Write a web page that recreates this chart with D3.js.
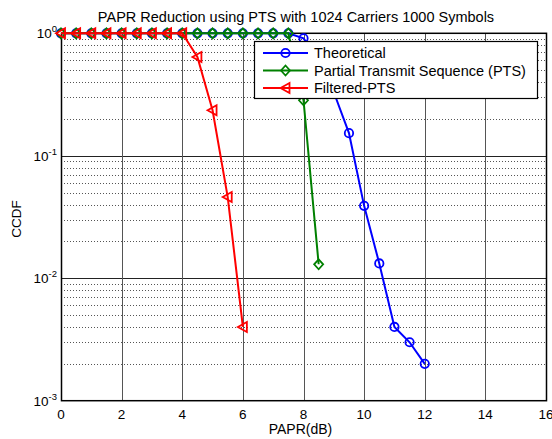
<!DOCTYPE html>
<html>
<head>
<meta charset="utf-8">
<script src="https://cdn.jsdelivr.net/npm/d3@7"></script>
<style>
  html, body { margin: 0; padding: 0; background: #fff; }
  svg { display: block; font-family: "Liberation Sans", Arial, sans-serif; }
</style>
</head>
<body>
<div id="chart"></div>
<script>
// PAPR values (dB) and CCDF readings for each curve
const paprTheory = [0, 0.5, 1, 1.5, 2, 2.5, 3, 3.5, 4, 4.5, 5, 5.5, 6, 6.5, 7, 7.5, 8, 8.5, 9, 9.5, 10, 10.5, 11, 11.5, 12];
const ccdfTheory = [1, 1, 1, 1, 1, 1, 1, 1, 1, 1, 1, 1, 1, 1, 1, 1, 0.91, 0.62, 0.33, 0.153, 0.039, 0.0132, 0.004, 0.003, 0.002];

const paprPts = [0, 0.5, 1, 1.5, 2, 2.5, 3, 3.5, 4, 4.5, 5, 5.5, 6, 6.5, 7, 7.5, 8, 8.5];
const ccdfPts = [1, 1, 1, 1, 1, 1, 1, 1, 1, 1, 1, 1, 1, 1, 1, 1, 0.284, 0.013];

const paprFilt = [0, 0.5, 1, 1.5, 2, 2.5, 3, 3.5, 4, 4.5, 5, 5.5, 6];
const ccdfFilt = [1, 1, 1, 1, 1, 1, 1, 1, 1, 0.64, 0.235, 0.046, 0.004];

const xTicks = [0, 2, 4, 6, 8, 10, 12, 14, 16];
const yDecades = [0, -1, -2, -3];
const legendLabels = ["Theoretical", "Partial Transmit Sequence (PTS)", "Filtered-PTS"];

const W = 552, H = 439;
const box = { left: 61, right: 546, top: 33.3, bottom: 400.7 };

const svg = d3.select("#chart").append("svg")
    .attr("width", W).attr("height", H);

const x = d3.scaleLinear().domain([0, 16]).range([box.left, box.right]);
const y = d3.scaleLog().domain([1e-3, 1]).range([box.bottom, box.top]);

// grid — minor dotted horizontals, solid majors
const minorVals = [];
for (let e = -3; e < 0; e++) for (let m = 2; m <= 9; m++) minorVals.push(m * Math.pow(10, e));

const grid = svg.append("g");
grid.selectAll(".ymin").data(minorVals).join("line")
    .attr("x1", box.left).attr("x2", box.right)
    .attr("y1", d => Math.round(y(d)) + 0.5).attr("y2", d => Math.round(y(d)) + 0.5)
    .attr("stroke", "#555").attr("stroke-dasharray", "1,2").attr("stroke-width", 1);
grid.selectAll(".ymaj").data(yDecades.slice(1, 3)).join("line")
    .attr("x1", box.left).attr("x2", box.right)
    .attr("y1", d => Math.round(y(Math.pow(10, d))) + 0.5).attr("y2", d => Math.round(y(Math.pow(10, d))) + 0.5)
    .attr("stroke", "#222").attr("stroke-width", 1);
grid.selectAll(".xmaj").data(xTicks.slice(1, -1)).join("line")
    .attr("x1", d => Math.round(x(d)) + 0.5).attr("x2", d => Math.round(x(d)) + 0.5)
    .attr("y1", box.top).attr("y2", box.bottom)
    .attr("stroke", "#555").attr("stroke-width", 1);

// axes frame
svg.append("rect")
    .attr("x", box.left + 0.5).attr("y", box.top)
    .attr("width", box.right - box.left).attr("height", box.bottom - box.top)
    .attr("fill", "none").attr("stroke", "#000").attr("stroke-width", 1.5);

// x tick labels
svg.append("g").selectAll("text").data(xTicks).join("text")
    .attr("x", d => x(d)).attr("y", box.bottom + 18)
    .attr("text-anchor", "middle").attr("font-size", 13.5)
    .text(d => d);

// y tick labels: 10^e
const yl = svg.append("g").selectAll("text").data(yDecades).join("text")
    .attr("x", 57).attr("y", d => y(Math.pow(10, d)) + 5)
    .attr("text-anchor", "end").attr("font-size", 13.5);
yl.append("tspan").text("10");
yl.append("tspan").attr("dy", -6).attr("font-size", 9.5).text(d => d);

// axis titles
svg.append("text").attr("x", (box.left + box.right) / 2 - 3).attr("y", 434)
    .attr("text-anchor", "middle").attr("font-size", 14).text("PAPR(dB)");
svg.append("text")
    .attr("transform", `translate(21, ${(box.top + box.bottom) / 2 + 2}) rotate(-90)`)
    .attr("text-anchor", "middle").attr("font-size", 13.5).text("CCDF");
svg.append("text").attr("x", 296).attr("y", 22)
    .attr("text-anchor", "middle").attr("font-size", 14.5)
    .text("PAPR Reduction using PTS with 1024 Carriers 1000 Symbols");

// series
const series = [
    { xs: paprTheory, ys: ccdfTheory, color: "#0000ff", marker: "circle" },
    { xs: paprPts, ys: ccdfPts, color: "#008000", marker: "diamond" },
    { xs: paprFilt, ys: ccdfFilt, color: "#ff0000", marker: "triangle" }
];
const line = d3.line().x(d => x(d[0])).y(d => y(d[1]));

function drawMarker(g, kind, color) {
    if (kind === "circle") {
        g.append("circle").attr("r", 4.2).attr("fill", "none")
            .attr("stroke", color).attr("stroke-width", 1.8);
    } else if (kind === "diamond") {
        g.append("path").attr("d", "M0,-5L4.5,0L0,5L-4.5,0Z").attr("fill", "none")
            .attr("stroke", color).attr("stroke-width", 1.8);
    } else {
        g.append("path").attr("d", "M-5,0L4,-5L4,5Z").attr("fill", "none")
            .attr("stroke", color).attr("stroke-width", 1.8);
    }
}

const plot = svg.append("g");
series.forEach(s => {
    const pts = s.xs.map((v, i) => [v, s.ys[i]]);
    plot.append("path").datum(pts).attr("d", line)
        .attr("fill", "none").attr("stroke", s.color).attr("stroke-width", 2);
    pts.forEach(p => {
        const g = plot.append("g").attr("transform", `translate(${x(p[0])},${y(p[1])})`);
        drawMarker(g, s.marker, s.color);
    });
});

// legend
const lg = svg.append("g");
lg.append("rect").attr("x", 254.5).attr("y", 41.5).attr("width", 283).attr("height", 57)
    .attr("fill", "#fff").attr("stroke", "#000").attr("stroke-width", 1.2);
const legendY = [53, 70.5, 88];
series.forEach((s, i) => {
    lg.append("line").attr("x1", 263).attr("x2", 308)
        .attr("y1", legendY[i]).attr("y2", legendY[i])
        .attr("stroke", s.color).attr("stroke-width", 2);
    drawMarker(lg.append("g").attr("transform", `translate(285.5,${legendY[i]})`), s.marker, s.color);
    lg.append("text").attr("x", 314).attr("y", legendY[i] + 5)
        .attr("font-size", 14.5).text(legendLabels[i]);
});
</script>
</body>
</html>
